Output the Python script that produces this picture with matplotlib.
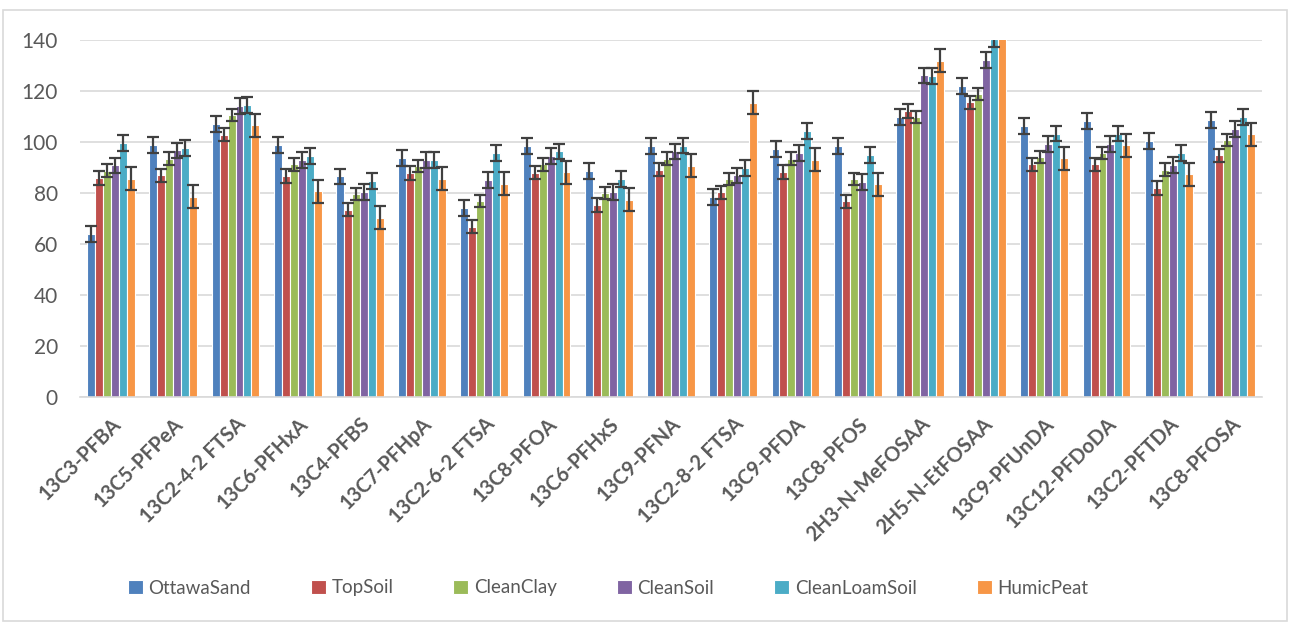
import matplotlib
matplotlib.use("Agg")
import matplotlib.pyplot as plt
import numpy as np

categories = ["13C3-PFBA", "13C5-PFPeA", "13C2-4-2 FTSA", "13C6-PFHxA", "13C4-PFBS",
              "13C7-PFHpA", "13C2-6-2 FTSA", "13C8-PFOA", "13C6-PFHxS", "13C9-PFNA",
              "13C2-8-2 FTSA", "13C9-PFDA", "13C8-PFOS", "2H3-N-MeFOSAA", "2H5-N-EtFOSAA",
              "13C9-PFUnDA", "13C12-PFDoDA", "13C2-PFTDA", "13C8-PFOSA"]

ottawa_sand = [63.8, 98.7, 107.2, 98.7, 86.5, 93.6, 74.2, 98.3, 88.5, 98.3,
               78.3, 97.1, 98.3, 109.7, 122.1, 106.4, 108.1, 100.3, 108.5]
top_soil = [85.9, 86.9, 102.9, 86.7, 73.5, 87.8, 66.8, 88.0, 75.3, 89.2,
            80.3, 88.2, 76.7, 112.2, 115.6, 91.2, 91.2, 82.0, 94.8]
clean_clay = [88.8, 93.5, 110.5, 91.2, 79.7, 90.5, 76.9, 91.2, 80.0, 93.5,
              85.6, 93.5, 85.4, 109.8, 118.7, 94.1, 95.7, 89.2, 100.7]
clean_soil = [90.8, 96.7, 114.2, 92.8, 80.4, 92.9, 85.0, 94.5, 80.3, 96.3,
              86.9, 95.8, 84.2, 126.1, 132.0, 99.1, 99.1, 91.1, 105.0]
clean_loam_soil = [99.6, 97.5, 114.5, 94.6, 84.6, 93.1, 95.8, 96.3, 85.5, 98.6,
                   89.8, 104.4, 95.0, 126.0, 140.3, 103.3, 103.3, 95.8, 109.8]
humic_peat = [85.6, 78.6, 106.5, 80.7, 70.3, 85.6, 83.7, 88.2, 77.4, 90.6,
              115.4, 93.1, 83.4, 131.9, 146.0, 93.6, 98.7, 87.3, 103.0]

series_names = ["OttawaSand", "TopSoil", "CleanClay", "CleanSoil", "CleanLoamSoil", "HumicPeat"]
series_errors = [3.1, 2.6, 2.4, 3.1, 3.1, 4.5]
series_values = [ottawa_sand, top_soil, clean_clay, clean_soil, clean_loam_soil, humic_peat]
colors = ["#4F81BD", "#C0504D", "#9BBB59", "#8064A2", "#4BACC6", "#F79646"]

plt.rcParams['font.family'] = ['Lato', 'DejaVu Sans']

fig = plt.figure(figsize=(12.9, 6.23), dpi=100)
ax = fig.add_axes([80/1290, 1 - 397/623, (1262 - 80)/1290, (397 - 40)/623])

x = np.arange(len(categories))
step = 0.128
for i, (name, vals, err, col) in enumerate(zip(series_names, series_values, series_errors, colors)):
    pos = x + (i - 2.5) * step
    ax.bar(pos, vals, width=step, color=col, edgecolor="white", linewidth=0.8,
           label=name, zorder=2)
    ax.errorbar(pos, vals, yerr=err, fmt="none", ecolor="#404040", elinewidth=1.6,
                capsize=4, capthick=1.6, zorder=3)

ax.set_xlim(-0.5, len(categories) - 0.5)
ax.set_ylim(0, 140)
ax.set_yticks(np.arange(0, 141, 20))
ax.yaxis.grid(True, color="#D9D9D9", linewidth=1.2, zorder=0)
ax.set_axisbelow(True)
for s in ["top", "right", "left"]:
    ax.spines[s].set_visible(False)
ax.spines["bottom"].set_color("#D9D9D9")
ax.spines["bottom"].set_linewidth(1.2)
ax.tick_params(axis="both", length=0)
ax.tick_params(axis="y", labelsize=15, labelcolor="#595959", pad=16)
ax.set_xticks(x)
ax.set_xticklabels(categories, rotation=45, ha="right", va="top",
                   rotation_mode="anchor", fontsize=14.5, fontweight="bold", color="#595959")
ax.tick_params(axis="x", pad=12)

# chart border
fig.patches.append(plt.Rectangle((3/1290, 2/623), 1284/1290, 611/623, transform=fig.transFigure,
                                 fill=False, edgecolor="#D9D9D9", linewidth=1.2))

leg = fig.legend(loc="center", bbox_to_anchor=(608/1290, 1 - 588/623), ncol=6, frameon=False,
                 fontsize=13.5, handlelength=0.8, handleheight=0.8, handletextpad=0.3,
                 columnspacing=3.2, labelcolor="#595959")

fig.savefig("out.png", dpi=100)
